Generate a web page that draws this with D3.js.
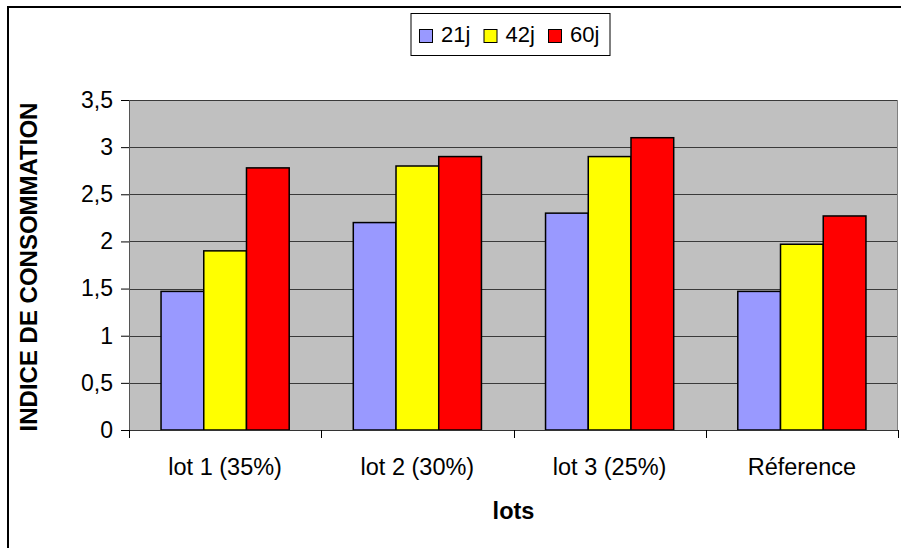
<!DOCTYPE html>
<html>
<head>
<meta charset="utf-8">
<script src="https://cdn.jsdelivr.net/npm/d3@7"></script>
<style>
  html, body { margin: 0; padding: 0; background: #fff; }
  svg { display: block; font-family: "Liberation Sans", Arial, sans-serif; }
</style>
</head>
<body>
<svg id="chart" width="901" height="548"></svg>
<script>
const categories = ["lot 1 (35%)", "lot 2 (30%)", "lot 3 (25%)", "Réference"];
const seriesNames = ["21j", "42j", "60j"];
const values21 = [1.47, 2.2, 2.3, 1.47];
const values42 = [1.9, 2.8, 2.9, 1.97];
const values60 = [2.78, 2.9, 3.1, 2.27];
const seriesColors = ["#9999FF", "#FFFF00", "#FF0000"];
const yTicks = [0, 0.5, 1, 1.5, 2, 2.5, 3, 3.5];
const yTitle = "INDICE DE CONSOMMATION";
const xTitle = "lots";

const seriesValues = [values21, values42, values60];
const svg = d3.select("#chart");

// outer frame
svg.append("rect").attr("x", 8).attr("y", 7).attr("width", 1000).attr("height", 1000)
  .attr("fill", "none").attr("stroke", "#000").attr("stroke-width", 2);

const plot = { left: 129, right: 898, top: 100, bottom: 430 };

const x = d3.scaleBand().domain(categories).range([plot.left, plot.right]).padding(0);
const xInner = d3.scaleBand().domain(seriesNames)
  .range([x.bandwidth() / 6, x.bandwidth() * 5 / 6]).padding(0);
const y = d3.scaleLinear().domain([0, 3.5]).range([plot.bottom, plot.top]);

// plot background
svg.append("rect").attr("x", plot.left).attr("y", plot.top)
  .attr("width", plot.right - plot.left).attr("height", plot.bottom - plot.top)
  .attr("fill", "#C0C0C0");

// gridlines
svg.append("g").selectAll("line").data(yTicks.filter(d => d > 0)).join("line")
  .attr("x1", plot.left).attr("x2", plot.right)
  .attr("y1", d => Math.round(y(d)) + 0.5).attr("y2", d => Math.round(y(d)) + 0.5)
  .attr("stroke", "#3a3a3a").attr("stroke-width", 1);

// right border of plot
svg.append("line").attr("x1", plot.right - 0.5).attr("x2", plot.right - 0.5)
  .attr("y1", plot.top).attr("y2", plot.bottom).attr("stroke", "#808080");

// bars
const groups = svg.append("g").selectAll("g").data(categories).join("g")
  .attr("transform", d => `translate(${x(d)},0)`);
groups.selectAll("rect").data((c, i) => seriesNames.map((s, j) => ({ s, v: seriesValues[j][i], c: seriesColors[j] })))
  .join("rect")
  .attr("x", d => xInner(d.s))
  .attr("width", xInner.bandwidth())
  .attr("y", d => y(d.v))
  .attr("height", d => y(0) - y(d.v))
  .attr("fill", d => d.c)
  .attr("stroke", "#000").attr("stroke-width", 1.5);

// y axis
const yAxis = d3.axisLeft(y).tickValues(yTicks).tickSize(8).tickPadding(8)
  .tickFormat(d => String(d).replace(".", ","));
const gy = svg.append("g").attr("transform", `translate(${plot.left},0)`).call(yAxis);
gy.select(".domain").attr("stroke", "#555");
gy.selectAll(".tick line").attr("stroke", "#000");
gy.selectAll("text").attr("font-size", 23).attr("fill", "#000")
  .attr("font-family", "'Liberation Sans', Arial, sans-serif");

// x axis
const xAxis = d3.axisBottom(x).tickSize(0).tickPadding(0);
const gx = svg.append("g").attr("transform", `translate(0,${plot.bottom})`).call(xAxis);
gx.select(".domain").remove();
gx.append("line").attr("x1", plot.left).attr("x2", plot.right).attr("y1", 0.5).attr("y2", 0.5)
  .attr("stroke", "#333");
const boundaries = categories.map(c => x(c)).concat([x(categories[categories.length - 1]) + x.bandwidth()]);
gx.selectAll(".bound").data(boundaries).join("line").attr("class", "bound")
  .attr("x1", d => Math.round(d) + 0.5).attr("x2", d => Math.round(d) + 0.5)
  .attr("y1", 0).attr("y2", 8).attr("stroke", "#000");
gx.selectAll(".tick text").attr("font-size", 23.5).attr("fill", "#000")
  .attr("font-family", "'Liberation Sans', Arial, sans-serif")
  .attr("dy", null).attr("y", 45);

// axis titles
svg.append("text").attr("transform", `translate(37,267) rotate(-90)`)
  .attr("text-anchor", "middle").attr("font-size", 24).attr("font-weight", "bold")
  .text(yTitle);
svg.append("text").attr("x", (plot.left + plot.right) / 2).attr("y", 519)
  .attr("text-anchor", "middle").attr("font-size", 23.5).attr("font-weight", "bold")
  .text(xTitle);

// legend
const legend = svg.append("g");
legend.append("rect").attr("x", 411).attr("y", 13.5).attr("width", 199).attr("height", 42)
  .attr("fill", "#fff").attr("stroke", "#000").attr("stroke-width", 1);
const li = legend.selectAll("g").data(seriesNames).join("g")
  .attr("transform", (d, i) => `translate(${419 + i * 64.5},0)`);
li.append("rect").attr("x", 0.5).attr("y", 29.5).attr("width", 13).attr("height", 13)
  .attr("fill", (d, i) => seriesColors[i]).attr("stroke", "#000");
li.append("text").attr("x", 22).attr("y", 42).attr("font-size", 22).text(d => d);
</script>
</body>
</html>
